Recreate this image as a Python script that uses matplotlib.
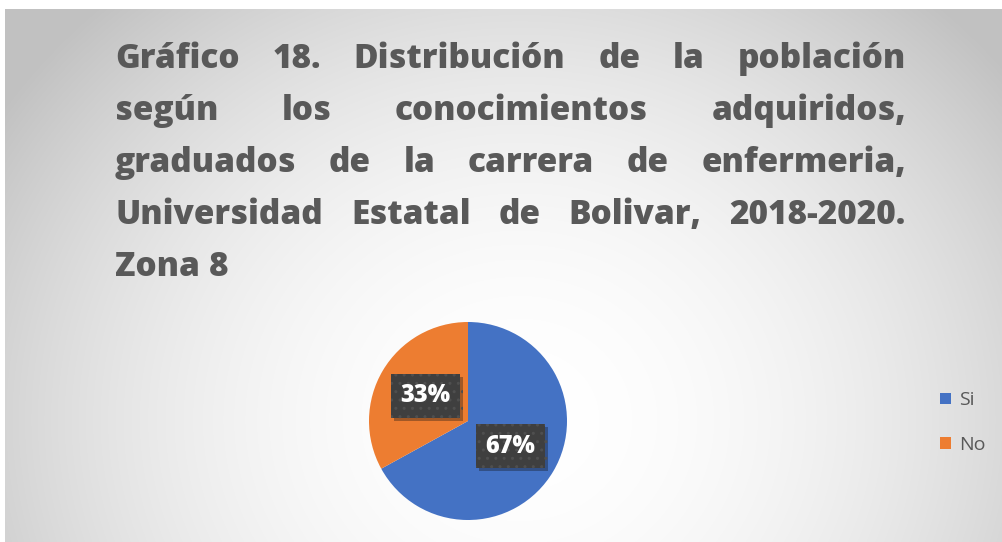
import numpy as np
import matplotlib
matplotlib.use('Agg')
import matplotlib.pyplot as plt
from matplotlib.transforms import IdentityTransform
import matplotlib.patheffects as pe

# datos del grafico
etiquetas = ['Si', 'No']
valores = [67, 33]
colores = ['#4472C4', '#ED7D31']

titulo = [
    ['Gráfico', '18.', 'Distribución', 'de', 'la', 'población'],
    ['según', 'los', 'conocimientos', 'adquiridos,'],
    ['graduados', 'de', 'la', 'carrera', 'de', 'enfermeria,'],
    ['Universidad', 'Estatal', 'de', 'Bolivar,', '2018-2020.'],
    ['Zona', '8'],
]

W, H = 1003, 542
plt.rcParams['font.family'] = ['Open Sans', 'DejaVu Sans']
fig = plt.figure(figsize=(W / 100, H / 100), dpi=100, facecolor='white')

# fondo con degradado radial
bg = fig.add_axes([0, 0, 1, 1])
bg.set_xlim(0, W)
bg.set_ylim(H, 0)
bg.axis('off')
xs = np.arange(5, W) + 0.5
ys = np.arange(9, H) + 0.5
X, Y = np.meshgrid(xs, ys)
d = np.sqrt(((X - 520) / 620) ** 2 + ((Y - 420) / 560) ** 2)
g = 1 - 0.24 * np.clip(d, 0, 1) ** 2
img = np.dstack([g, g, g])
bg.imshow(img, extent=(5, W, H, 9), aspect='auto', interpolation='bilinear')

# titulo justificado
fig.canvas.draw()
renderer = fig.canvas.get_renderer()
izq, der = 115, 906
bases = [68, 120, 172, 224, 276]
fs = 24
peso = 'heavy'
for i, palabras in enumerate(titulo):
    textos = [fig.text(0, 0, p, fontsize=fs, fontweight=peso, color='#595959',
                       transform=IdentityTransform(), ha='left', va='baseline')
              for p in palabras]
    anchos = [t.get_window_extent(renderer).width for t in textos]
    if i < len(titulo) - 1:
        hueco = (der - izq - sum(anchos)) / (len(palabras) - 1)
    else:
        sp = fig.text(0, 0, 'a a', fontsize=fs, fontweight=peso)
        sa = fig.text(0, 0, 'aa', fontsize=fs, fontweight=peso)
        hueco = sp.get_window_extent(renderer).width - sa.get_window_extent(renderer).width
        sp.remove(); sa.remove()
    x = izq
    for t, a in zip(textos, anchos):
        t.set_position((x, H - bases[i]))
        x += a + hueco

# pastel
cx, cy, r = 468, 421, 99
pax = fig.add_axes([(cx - r) / W, (H - cy - r) / H, 2 * r / W, 2 * r / H])
wedges, _, autotexts = pax.pie(valores, colors=colores, startangle=90, counterclock=False,
                               autopct=lambda p: f'{p:.0f}%', pctdistance=0.5, radius=1)
pax.set_xlim(-1, 1)
pax.set_ylim(-1, 1)
for t in autotexts:
    t.set_color('white')
    t.set_fontsize(17)
    t.set_fontweight('heavy')
    t.set_bbox(dict(boxstyle='square,pad=0.4', fc='#3f3f3f', ec='#4f4f4f', lw=0, hatch='..'))
    t.get_bbox_patch().set_path_effects([pe.SimplePatchShadow(offset=(2, -2), alpha=0.35), pe.Normal()])

# leyenda
fig.legend(wedges, etiquetas, loc='center left', bbox_to_anchor=(940 / W, (H - 422.5) / H),
           frameon=False, fontsize=14, labelcolor='#595959', handlelength=0.55, handleheight=0.55,
           handletextpad=0.45, labelspacing=1.35, borderpad=0, borderaxespad=0)

fig.savefig('out.png', dpi=100)
